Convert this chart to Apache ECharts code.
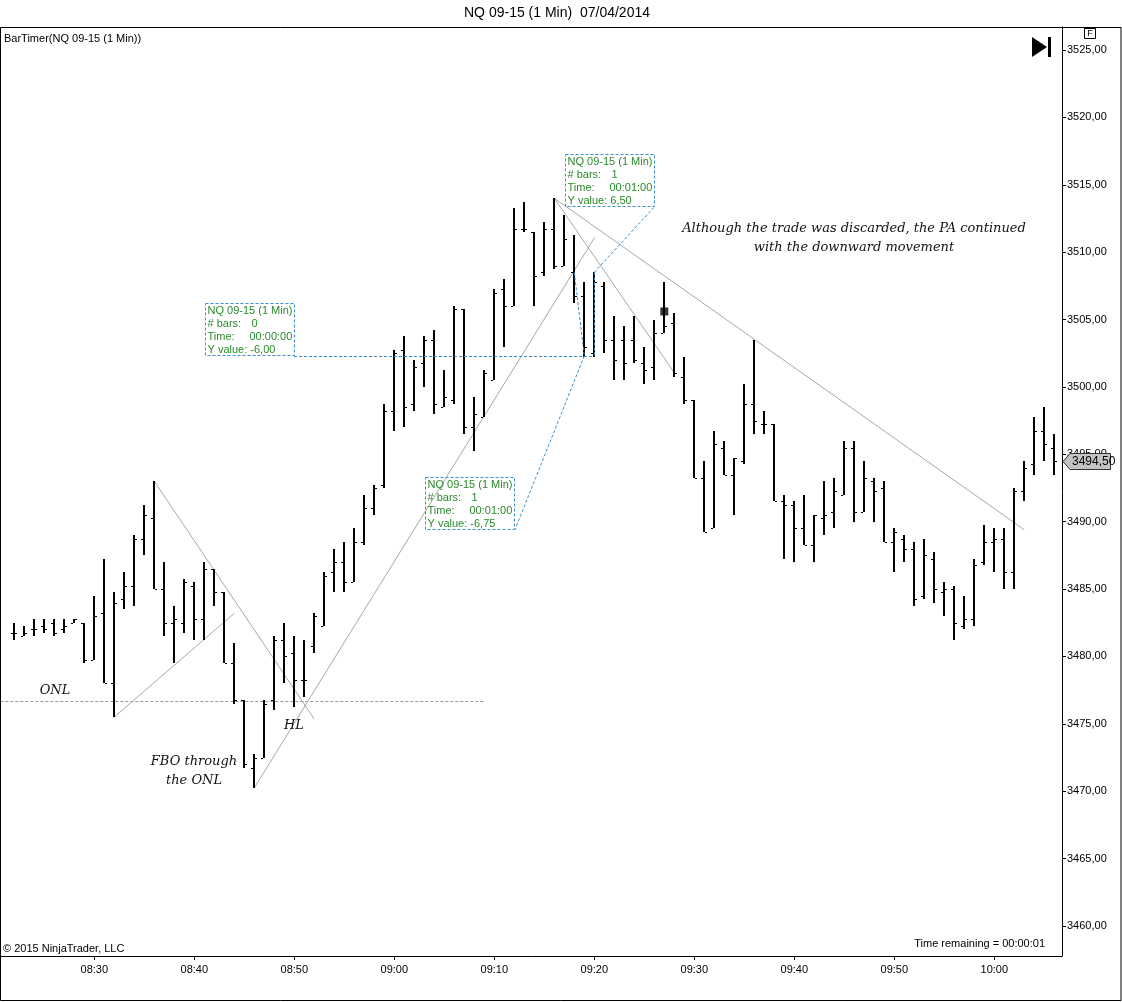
<!DOCTYPE html>
<html>
<head>
<meta charset="utf-8">
<title>NQ 09-15 (1 Min) 07/04/2014</title>
<script src="https://cdn.jsdelivr.net/npm/echarts@6/dist/echarts.min.js"></script>
<style>
  html, body { margin: 0; padding: 0; background: #fff; }
  #chart { width: 1122px; height: 1002px; }
</style>
</head>
<body>
<div id="chart"></div>
<script>
// 1 minute bars, 08:22 .. 10:06
const barTimes = [
  '08:22', '08:23', '08:24', '08:25', '08:26', '08:27', '08:28', '08:29', '08:30', '08:31',
  '08:32', '08:33', '08:34', '08:35', '08:36', '08:37', '08:38', '08:39', '08:40', '08:41',
  '08:42', '08:43', '08:44', '08:45', '08:46', '08:47', '08:48', '08:49', '08:50', '08:51',
  '08:52', '08:53', '08:54', '08:55', '08:56', '08:57', '08:58', '08:59', '09:00', '09:01',
  '09:02', '09:03', '09:04', '09:05', '09:06', '09:07', '09:08', '09:09', '09:10', '09:11',
  '09:12', '09:13', '09:14', '09:15', '09:16', '09:17', '09:18', '09:19', '09:20', '09:21',
  '09:22', '09:23', '09:24', '09:25', '09:26', '09:27', '09:28', '09:29', '09:30', '09:31',
  '09:32', '09:33', '09:34', '09:35', '09:36', '09:37', '09:38', '09:39', '09:40', '09:41',
  '09:42', '09:43', '09:44', '09:45', '09:46', '09:47', '09:48', '09:49', '09:50', '09:51',
  '09:52', '09:53', '09:54', '09:55', '09:56', '09:57', '09:58', '09:59', '10:00', '10:01',
  '10:02', '10:03', '10:04', '10:05', '10:06'
];

const opens = [
  3481.75, 3481.5, 3482, 3482.25, 3482.5, 3482, 3482.5, 3482.5, 3479.75, 3483.25,
  3478, 3484.25, 3485.25, 3488.75, 3490.25, 3485, 3482.5, 3482.5, 3485.25, 3482.75,
  3486.5, 3484.75, 3479.5, 3476.75, 3471.75, 3472.5, 3476.75, 3481.25, 3480.25, 3478.25,
  3480.75, 3482.25, 3486.25, 3487, 3485.5, 3488.5, 3491, 3492.75, 3498.25, 3502.75,
  3498.75, 3501.75, 3503.5, 3498.5, 3499, 3505.75, 3497, 3497.75, 3500.5, 3507.25,
  3506, 3511.75, 3511.5, 3508.5, 3511.75, 3509, 3508.5, 3506.75, 3502.5, 3507.5,
  3503.5, 3503.5, 3503.5, 3501.75, 3501.5, 3504, 3504.75, 3500.75, 3499, 3493.25,
  3489.5, 3495.5, 3493.5, 3494.5, 3498.75, 3497.25, 3497.25, 3491.5, 3491.25, 3489.5,
  3488.25, 3490.25, 3490.75, 3492, 3495.5, 3490.75, 3493, 3492.5, 3488.5, 3488.75,
  3488, 3484.5, 3487.25, 3484.75, 3485, 3482.25, 3482.75, 3487, 3488.5, 3488.75,
  3486.25, 3492.25, 3494.25, 3496.75, 3495.5
];

const highs = [
  3482.5, 3482.25, 3482.75, 3482.75, 3482.75, 3482.75, 3482.75, 3482.5, 3484.5, 3487.25,
  3484.75, 3486.25, 3489, 3491.25, 3493, 3487, 3483.75, 3485.75, 3485.5, 3487,
  3486.5, 3484.75, 3481, 3476.75, 3472.75, 3476.75, 3481.5, 3482.5, 3481.5, 3481.25,
  3483.25, 3486.25, 3488, 3488.5, 3489.5, 3492, 3492.75, 3498.75, 3502.75, 3503.75,
  3502, 3503.75, 3504.25, 3501.25, 3506, 3505.75, 3499.25, 3501.25, 3507.25, 3508,
  3513.25, 3513.75, 3511.5, 3512.25, 3514, 3512.75, 3511.25, 3507.75, 3508.5, 3507.75,
  3505.25, 3504.5, 3505.25, 3503, 3505, 3507.75, 3505.5, 3502.25, 3499, 3494.5,
  3496.75, 3496, 3494.75, 3500.25, 3503.5, 3498.25, 3497.25, 3492, 3491.5, 3492,
  3490.5, 3493, 3493.25, 3496, 3496, 3494.5, 3493.25, 3493, 3489.5, 3489,
  3488.5, 3488.75, 3487.75, 3485.5, 3485.25, 3484.5, 3487.25, 3489.75, 3489.5, 3489.5,
  3492.5, 3494.5, 3497.75, 3498.5, 3496.5
];

const lows = [
  3481.25, 3481.5, 3481.5, 3481.75, 3481.5, 3481.75, 3482.5, 3479.5, 3479.75, 3478,
  3475.5, 3483.5, 3483.75, 3487.5, 3485, 3481.5, 3479.5, 3481.75, 3481.25, 3481.25,
  3483.75, 3479.5, 3476.5, 3471.75, 3470.25, 3472.5, 3476, 3478, 3476.25, 3477,
  3480.25, 3482.25, 3484.75, 3484.75, 3485.5, 3488.25, 3490.5, 3492.5, 3496.75, 3497,
  3498.25, 3500, 3498, 3498.5, 3498.75, 3496.5, 3495.25, 3497.75, 3500.5, 3503,
  3506, 3511.5, 3506, 3508.25, 3508.75, 3509, 3506.25, 3502.25, 3502.25, 3502.5,
  3500.5, 3500.5, 3501.75, 3500.25, 3500.5, 3504, 3500.75, 3498.75, 3493.25, 3489.25,
  3489.5, 3493.5, 3490.5, 3494.25, 3496.5, 3496.5, 3491.5, 3487.25, 3487, 3488.25,
  3487, 3489, 3489.5, 3492, 3490, 3490.75, 3490, 3488.5, 3486.25, 3487,
  3483.75, 3484.25, 3484, 3483, 3481.25, 3482, 3482.25, 3486.75, 3486.25, 3485,
  3485, 3491.5, 3493.5, 3494.5, 3493.5
];

const closes = [
  3481.75, 3481.75, 3482, 3482, 3481.75, 3482.25, 3482.75, 3479.75, 3483, 3478,
  3484, 3485.25, 3488.75, 3490.5, 3485, 3482.5, 3482.75, 3485.5, 3482.75, 3486.5,
  3484.75, 3479.5, 3476.75, 3472, 3472.5, 3476.5, 3481.25, 3480, 3478.25, 3478.25,
  3483, 3486, 3487, 3485.5, 3488.5, 3491, 3492.5, 3498.25, 3502.5, 3498.5,
  3501.5, 3503.5, 3498.75, 3499.25, 3505.75, 3497, 3498, 3501, 3507, 3506,
  3511.75, 3511.75, 3508.25, 3511.75, 3509, 3511, 3506.75, 3503, 3507.75, 3503.5,
  3502, 3501.75, 3502, 3501.25, 3504, 3504.5, 3501, 3499, 3493.25, 3489.25,
  3495.75, 3493.5, 3494.75, 3498.75, 3497.5, 3497.25, 3491.5, 3491.25, 3489.5, 3488.25,
  3490.5, 3490.5, 3492.25, 3495.5, 3490.75, 3493.25, 3492.25, 3488.5, 3489.25, 3488,
  3484.25, 3487.5, 3485, 3485, 3482.5, 3482.75, 3486.75, 3488.5, 3488.75, 3486.25,
  3492.25, 3494, 3496.75, 3495.75, 3494.5
];

const xTickLabels = ['08:30', '08:40', '08:50', '09:00', '09:10', '09:20', '09:30', '09:40', '09:50', '10:00'];
const yTickValues = [3460, 3465, 3470, 3475, 3480, 3485, 3490, 3495, 3500, 3505, 3510, 3515, 3520, 3525];

// drawing objects, x in minutes after midnight
const trendLines = [
  [[512.0, 3475.5], [524.0, 3483.2]],
  [[516.0, 3493.0], [532.0, 3475.35]],
  [[526.0, 3470.25], [560.05, 3511.1]],
  [[556.0, 3514.0], [568.05, 3501.0]],
  [[556.0, 3514.0], [603.0, 3489.4]]
];
const onlLine = [[500.6, 3476.7], [549.1, 3476.7]];
const rulerLines = [
  [[529.97, 3502.3], [560.0, 3502.3]],
  [[560.0, 3508.5], [560.0, 3502.3]],
  [[560.0, 3508.5], [566.07, 3513.42]],
  [[558.0, 3508.5], [559.0, 3502.3]],
  [[559.0, 3502.3], [552.07, 3489.4]]
];
const rulerBoxes = [
  { at: [521.07, 3506.23], bars: '0', time: '00:00:00', yValue: '-6,00' },
  { at: [557.07, 3517.28], bars: '1', time: '00:01:00', yValue: '6,50' },
  { at: [543.07, 3493.32], bars: '1', time: '00:01:00', yValue: '-6,75' }
];
const notes = [
  [506.07, 3477.5, 'ONL'],
  [529.97, 3474.9, 'HL'],
  [519.97, 3472.17, 'FBO through'],
  [519.97, 3470.76, 'the ONL'],
  [585.97, 3511.72, 'Although the trade was discarded, the PA continued'],
  [585.97, 3510.31, 'with the downward movement']
];
const squareMarker = [567, 3505.6];

const toMinutes = (t) => {
  const [h, m] = t.split(':').map(Number);
  return h * 60 + m;
};
const xTickValues = xTickLabels.map(toMinutes);
const bars = barTimes.map((t, i) => [toMinutes(t), opens[i], highs[i], lows[i], closes[i]]);
const priceFmt = (v) => v.toFixed(2).replace('.', ',');

const SANS = '"Liberation Sans", Arial, sans-serif';
const BLUE = '#3a8fd0';
const GREEN = '#2a8a2a';

const chart = echarts.init(document.getElementById('chart'));

// OHLC bar: high-low stroke, open tick left, close tick right
function renderOhlc(params, api) {
  const t = api.value(0);
  const pH = api.coord([t, api.value(2)]);
  const pL = api.coord([t, api.value(3)]);
  const yO = Math.round(api.coord([t, api.value(1)])[1]) + 0.5;
  const yC = Math.round(api.coord([t, api.value(4)])[1]) + 0.5;
  const x = Math.round(pH[0]);
  let y1 = Math.round(pH[1]);
  let y2 = Math.round(pL[1]);
  if (y2 - y1 < 1) y2 = y1 + 1;
  const st = { stroke: '#000', lineWidth: 1 };
  return {
    type: 'group',
    children: [
      { type: 'line', shape: { x1: x, y1: y1, x2: x, y2: y2 }, style: { stroke: '#000', lineWidth: 2 } },
      { type: 'line', shape: { x1: x - 3, y1: yO, x2: x - 1, y2: yO }, style: st },
      { type: 'line', shape: { x1: x + 1, y1: yC, x2: x + 3, y2: yC }, style: st }
    ]
  };
}

function renderBox(params, api) {
  const b = rulerBoxes[params.dataIndex];
  const p = api.coord([api.value(0), api.value(1)]);
  const x = Math.round(p[0]) + 0.5;
  const y = Math.round(p[1]) + 0.5;
  const font = '11px ' + SANS;
  const txt = (s, dx, dy) => ({
    type: 'text',
    style: { text: s, x: x + dx, y: y + dy, font: font, fill: GREEN, align: 'left', verticalAlign: 'middle' }
  });
  return {
    type: 'group',
    children: [
      { type: 'rect', shape: { x: x, y: y, width: 89, height: 52 },
        style: { fill: 'rgba(255,255,255,0)', stroke: BLUE, lineWidth: 1, lineDash: [3, 2] } },
      txt('NQ 09-15 (1 Min)', 2, 7),
      txt('# bars:', 2, 20), txt(b.bars, 46, 20),
      txt('Time:', 2, 33), txt(b.time, 44, 33),
      txt('Y value: ' + b.yValue, 2, 46)
    ]
  };
}

function renderNote(params, api) {
  const p = api.coord([api.value(0), api.value(1)]);
  return {
    type: 'text',
    style: {
      text: notes[params.dataIndex][2], x: p[0], y: p[1],
      font: 'italic 13px "DejaVu Serif", serif', fill: '#111',
      align: 'center', verticalAlign: 'middle'
    }
  };
}

const option = {
  animation: false,
  backgroundColor: '#fff',
  grid: { left: 1, right: 60, top: 27, bottom: 46, containLabel: false },
  xAxis: {
    type: 'value',
    min: 500.67,
    max: 606.77,
    axisLine: { show: true, lineStyle: { color: '#000', width: 1 } },
    axisTick: { show: true, customValues: xTickValues, length: 4, lineStyle: { color: '#000' } },
    axisLabel: {
      customValues: xTickValues,
      formatter: (v) => xTickLabels[xTickValues.indexOf(v)],
      color: '#000', fontSize: 11, fontFamily: SANS, margin: 8
    },
    splitLine: { show: false }
  },
  yAxis: {
    type: 'value',
    position: 'right',
    min: 3457.77,
    max: 3526.71,
    axisLine: { show: true, lineStyle: { color: '#000', width: 1 } },
    axisTick: { show: true, customValues: yTickValues, length: 4, lineStyle: { color: '#000' } },
    axisLabel: {
      customValues: yTickValues,
      formatter: priceFmt,
      color: '#000', fontSize: 11, fontFamily: SANS, margin: 5
    },
    splitLine: { show: false }
  },
  series: [
    {
      name: 'trend',
      type: 'lines',
      coordinateSystem: 'cartesian2d',
      silent: true,
      z: 1,
      lineStyle: { color: '#a8a8a8', width: 1, opacity: 1 },
      data: trendLines.map((c) => ({ coords: c }))
    },
    {
      name: 'ONL',
      type: 'lines',
      coordinateSystem: 'cartesian2d',
      silent: true,
      z: 1,
      lineStyle: { color: '#999', width: 1, type: [3, 2], opacity: 1 },
      data: [{ coords: onlLine }]
    },
    {
      name: 'NQ 09-15 (1 Min)',
      type: 'custom',
      renderItem: renderOhlc,
      z: 2,
      encode: { x: 0, y: [2, 3] },
      data: bars
    },
    {
      name: 'ruler',
      type: 'lines',
      coordinateSystem: 'cartesian2d',
      silent: true,
      z: 3,
      lineStyle: { color: BLUE, width: 1, type: [3, 2], opacity: 1 },
      data: rulerLines.map((c) => ({ coords: c }))
    },
    {
      name: 'ruler boxes',
      type: 'custom',
      renderItem: renderBox,
      z: 3,
      data: rulerBoxes.map((b) => b.at)
    },
    {
      name: 'notes',
      type: 'custom',
      renderItem: renderNote,
      z: 4,
      data: notes.map((n) => [n[0], n[1]])
    },
    {
      name: 'marker',
      type: 'scatter',
      symbol: 'rect',
      symbolSize: 8,
      itemStyle: { color: '#000' },
      z: 4,
      data: [squareMarker]
    }
  ]
};

chart.setOption(option);

// frame, header texts and the last price tag on the price axis
const lastY = Math.round(chart.convertToPixel({ yAxisIndex: 0 }, closes[closes.length - 1])) + 0.5;
const graphics = [
  {
    type: 'rect', z: 50, silent: true,
    shape: { x: 0.5, y: 27.5, width: 1120.5, height: 973 },
    style: { fill: 'none', stroke: '#000', lineWidth: 1 }
  },
  {
    type: 'text', z: 50,
    style: { text: 'NQ 09-15 (1 Min)  07/04/2014', x: 557, y: 13, font: '14px ' + SANS, fill: '#000',
      align: 'center', verticalAlign: 'middle', textAlign: 'center', textVerticalAlign: 'middle' }
  },
  {
    type: 'text', z: 50,
    style: { text: 'BarTimer(NQ 09-15 (1 Min))', x: 4, y: 39, font: '11px ' + SANS, fill: '#000',
      align: 'left', verticalAlign: 'middle', textAlign: 'left', textVerticalAlign: 'middle' }
  },
  {
    type: 'text', z: 50,
    style: { text: '\u00a9 2015 NinjaTrader, LLC', x: 3, y: 949, font: '11px ' + SANS, fill: '#000',
      align: 'left', verticalAlign: 'middle', textAlign: 'left', textVerticalAlign: 'middle' }
  },
  {
    type: 'text', z: 50,
    style: { text: 'Time remaining = 00:00:01', x: 1045, y: 944, font: '11px ' + SANS, fill: '#000',
      align: 'right', verticalAlign: 'middle', textAlign: 'right', textVerticalAlign: 'middle' }
  },
  {
    type: 'polygon', z: 50,
    shape: { points: [[1032, 37], [1047, 47], [1032, 57]] },
    style: { fill: '#000' }
  },
  { type: 'rect', z: 50, shape: { x: 1048, y: 37, width: 3, height: 20 }, style: { fill: '#000' } },
  {
    type: 'rect', z: 50,
    shape: { x: 1084.5, y: 28.5, width: 11, height: 10 },
    style: { fill: '#fff', stroke: '#000', lineWidth: 1 }
  },
  {
    type: 'text', z: 51,
    style: { text: 'F', x: 1090, y: 34, font: '9px ' + SANS, fill: '#000',
      align: 'center', verticalAlign: 'middle', textAlign: 'center', textVerticalAlign: 'middle' }
  },
  {
    type: 'polygon', z: 60,
    shape: { points: [[1063, lastY], [1070, lastY - 8], [1110.5, lastY - 8], [1110.5, lastY + 8], [1070, lastY + 8]] },
    style: { fill: '#c4c4c4', stroke: '#333', lineWidth: 1 }
  },
  {
    type: 'text', z: 61,
    style: { text: priceFmt(closes[closes.length - 1]), x: 1072, y: lastY, font: '12px ' + SANS, fill: '#000',
      align: 'left', verticalAlign: 'middle', textAlign: 'left', textVerticalAlign: 'middle' }
  }
];
chart.setOption({ graphic: graphics });
</script>
</body>
</html>
